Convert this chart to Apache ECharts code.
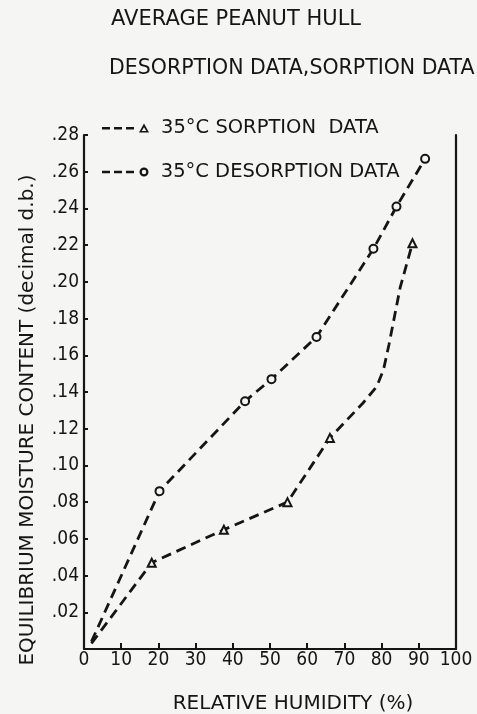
<!DOCTYPE html>
<html>
<head>
<meta charset="utf-8">
<script src="https://cdn.jsdelivr.net/npm/echarts@6/dist/echarts.min.js"></script>
<style>
html,body{margin:0;padding:0;background:#f5f5f3;}
#c{width:477px;height:714px;}
</style>
</head>
<body>
<div id="c"></div>
<script>
// Data
const sorptionRH = [2, 18.2, 37.6, 54.7, 66.1, 75.0, 78.7, 80.5, 82.0, 85.0, 88.3];
const sorptionEMC = [0.003, 0.047, 0.065, 0.080, 0.115, 0.134, 0.143, 0.152, 0.166, 0.197, 0.221];
const sorptionMarked = [false, true, true, true, true, false, false, false, false, false, true];

const desorptionRH = [2, 20.3, 43.3, 50.4, 62.5, 77.8, 84.0, 91.7];
const desorptionEMC = [0.004, 0.086, 0.135, 0.147, 0.170, 0.218, 0.241, 0.267];
const desorptionMarked = [false, true, true, true, true, true, true, true];

const xTicks = [0, 10, 20, 30, 40, 50, 60, 70, 80, 90, 100];
const yTicks = [0, 0.02, 0.04, 0.06, 0.08, 0.10, 0.12, 0.14, 0.16, 0.18, 0.20, 0.22, 0.24, 0.26, 0.28];

const titleLines = ['AVERAGE PEANUT HULL', 'DESORPTION DATA,SORPTION DATA'];
const sorptionName = "35\u00B0C SORPTION  DATA";
const desorptionName = "35\u00B0C DESORPTION DATA";
const xName = 'RELATIVE HUMIDITY (%)';
const yName = 'EQUILIBRIUM MOISTURE CONTENT (decimal d.b.)';

const ink = '#151515';
const bg = '#f5f5f3';
const font = "'DejaVu Sans Condensed', 'DejaVu Sans'";
const font2 = "'DejaVu Sans'";

// legend icons: three dashes followed by a hollow marker
const dashes = 'M0 4 h8 v2.6 h-8 Z M12 4 h8 v2.6 h-8 Z M24 4 h8 v2.6 h-8 Z ';
const triIcon = 'path://' + dashes + 'M42 0.5 L47 9.5 L37 9.5 Z M42 4.2 L39.7 8.1 L44.3 8.1 Z';
const cirIcon = 'path://' + dashes +
  'M42 0.8 A4.5 4.5 0 1 1 41.99 0.8 Z M42 3.1 A2.2 2.2 0 1 0 42.01 3.1 Z';

function pts(xs, ys, marked) {
  return xs.map((x, i) => marked[i] ? [x, ys[i]] : {value: [x, ys[i]], symbol: 'none'});
}

const chart = echarts.init(document.getElementById('c'), null, {renderer: 'canvas'});
chart.setOption({
  backgroundColor: bg,
  animation: false,
  textStyle: {fontFamily: font2, color: ink},
  title: [
    {text: titleLines[0], left: 111, top: 9, padding: 0,
     textStyle: {fontFamily: font2, fontSize: 21, fontWeight: 'normal', color: ink}},
    {text: titleLines[1], left: 109, top: 58, padding: 0,
     textStyle: {fontFamily: font2, fontSize: 20.5, fontWeight: 'normal', color: ink}}
  ],
  legend: [
    {data: [{name: sorptionName, icon: triIcon}], left: 102, top: 118, padding: 0,
     itemWidth: 49, itemHeight: 9, itemGap: 4, inactiveColor: ink,
     itemStyle: {color: ink, borderWidth: 0},
     textStyle: {fontFamily: font2, fontSize: 19.5, color: ink, padding: [0, 0, 0, 6]}},
    {data: [{name: desorptionName, icon: cirIcon}], left: 102, top: 162, padding: 0,
     itemWidth: 49, itemHeight: 9, itemGap: 4, inactiveColor: ink,
     itemStyle: {color: ink, borderWidth: 0},
     textStyle: {fontFamily: font2, fontSize: 19.5, color: ink, padding: [0, 0, 0, 6]}}
  ],
  grid: {left: 84, right: 21, top: 135, bottom: 65, containLabel: false, outerBoundsMode: 'none'},
  xAxis: {
    type: 'value', min: 0, max: 100, interval: 10,
    name: xName, nameLocation: 'middle', nameGap: 45,
    nameTextStyle: {fontFamily: font2, fontSize: 20, color: ink, padding: [0, 0, 0, 46]},
    axisLine: {lineStyle: {color: ink, width: 2.2}},
    axisTick: {inside: true, length: 6, lineStyle: {color: ink, width: 2}},
    axisLabel: {fontFamily: font, fontSize: 19, color: ink, margin: 2,
      formatter: v => xTicks.includes(v) ? String(v) : ''},
    splitLine: {show: false}
  },
  yAxis: [{
    type: 'value', min: 0, max: 0.28, interval: 0.02,
    name: yName, nameLocation: 'middle', nameGap: 46, nameRotate: 90,
    nameTextStyle: {fontFamily: font2, fontSize: 20, color: ink, padding: [0, 56, 0, 0]},
    axisLine: {show: true, lineStyle: {color: ink, width: 2.2}},
    axisTick: {inside: true, length: 4, lineStyle: {color: ink, width: 2}},
    axisLabel: {fontFamily: font, fontSize: 19, color: ink, margin: 5,
      formatter: v => (v === 0 || !yTicks.some(t => Math.abs(t - v) < 1e-9)) ? '' : v.toFixed(2).slice(1)},
    splitLine: {show: false}
  }, {
    type: 'value', min: 0, max: 0.28, interval: 0.02, position: 'right',
    axisLine: {show: true, lineStyle: {color: ink, width: 2.2}},
    axisTick: {show: false}, axisLabel: {show: false}, splitLine: {show: false}
  }],
  series: [
    {name: sorptionName, type: 'line', data: pts(sorptionRH, sorptionEMC, sorptionMarked),
     symbol: 'triangle', symbolSize: 8, showAllSymbol: true,
     itemStyle: {color: bg, borderColor: ink, borderWidth: 2},
     lineStyle: {color: ink, width: 2.8, type: [10, 6]}, smooth: false},
    {name: desorptionName, type: 'line', data: pts(desorptionRH, desorptionEMC, desorptionMarked),
     symbol: 'circle', symbolSize: 8, showAllSymbol: true,
     itemStyle: {color: bg, borderColor: ink, borderWidth: 2},
     lineStyle: {color: ink, width: 2.8, type: [10, 6]}, smooth: false}
  ]
});
</script>
</body>
</html>
